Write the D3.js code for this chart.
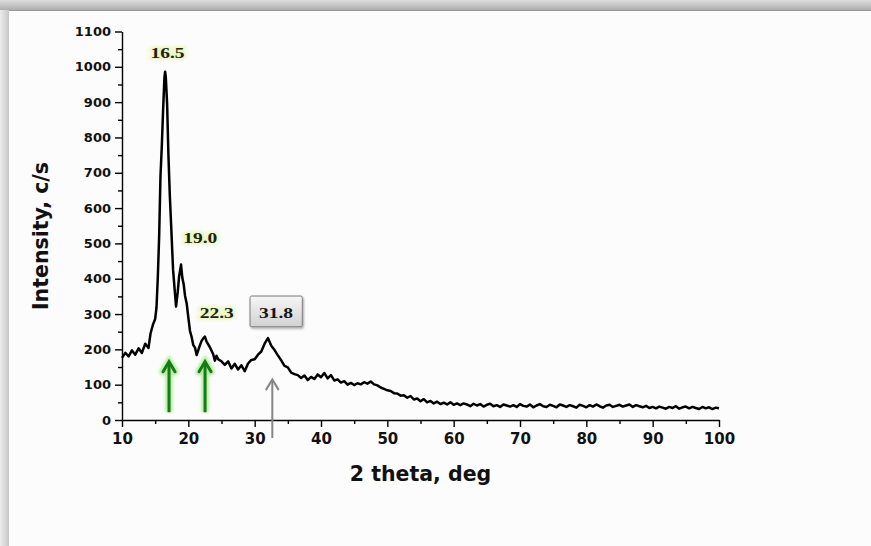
<!DOCTYPE html>
<html>
<head>
<meta charset="utf-8">
<script src="https://cdn.jsdelivr.net/npm/d3@7"></script>
<style>
  body { margin: 0; background: #fcfcfc; }
  svg { display: block; }
</style>
</head>
<body>
<div id="chart"></div>
<script>
// Picture size
const width = 871;
const height = 546;

// XRD pattern
const twoTheta = [
  10.0, 10.5, 11.0, 11.5, 12.0, 12.5, 13.0, 13.5, 14.0, 14.3, 14.7, 15.0, 15.2, 15.4, 15.6, 15.8,
  16.0, 16.2, 16.4, 16.5, 16.6, 16.8, 17.0, 17.2, 17.4, 17.7, 18.0, 18.15, 18.4, 18.6, 18.9, 19.1,
  19.3, 19.5, 19.75, 20.0, 20.25, 20.5, 20.75, 21.0, 21.25, 21.5, 21.75, 22.0, 22.25, 22.5, 22.75,
  23.0, 23.25, 23.5, 23.75, 24.0, 24.25, 24.5, 25.0, 25.5, 26.0, 26.5, 27.0, 27.5, 28.0, 28.5,
  29.0, 29.5, 30.0, 30.5, 31.0, 31.5, 32.0, 32.5, 33.0, 33.5, 34.0, 34.5, 35.0, 35.5, 36.0, 36.5,
  37.0, 37.5, 38.0, 38.5, 39.0, 39.5, 40.0, 40.5, 41.0, 41.5, 42.0, 42.5, 43.0, 43.5, 44.0, 44.5,
  45.0, 45.5, 46.0, 46.5, 47.0, 47.5, 48.0, 48.5, 49.0, 49.5, 50.0, 50.5, 51.0, 51.5, 52.0, 52.5,
  53.0, 53.5, 54.0, 54.5, 55.0, 55.5, 56.0, 56.5, 57.0, 57.5, 58.0, 58.5, 59.0, 59.5, 60.0, 60.5,
  61.0, 61.5, 62.0, 62.5, 63.0, 63.5, 64.0, 64.5, 65.0, 65.5, 66.0, 66.5, 67.0, 67.5, 68.0, 68.5,
  69.0, 69.5, 70.0, 70.5, 71.0, 71.5, 72.0, 72.5, 73.0, 73.5, 74.0, 74.5, 75.0, 75.5, 76.0, 76.5,
  77.0, 77.5, 78.0, 78.5, 79.0, 79.5, 80.0, 80.5, 81.0, 81.5, 82.0, 82.5, 83.0, 83.5, 84.0, 84.5,
  85.0, 85.5, 86.0, 86.5, 87.0, 87.5, 88.0, 88.5, 89.0, 89.5, 90.0, 90.5, 91.0, 91.5, 92.0, 92.5,
  93.0, 93.5, 94.0, 94.5, 95.0, 95.5, 96.0, 96.5, 97.0, 97.5, 98.0, 98.5, 99.0, 99.5, 100.0
];
const intensity = [
  176, 190, 180, 197, 185, 203, 190, 216, 204, 245, 272, 286, 318, 405, 520, 690,
  775, 880, 970, 986, 972, 895, 750, 640, 555, 425, 355, 321, 362, 405, 440, 402,
  384, 352, 330, 290, 252, 235, 212, 205, 184, 198, 212, 224, 231, 236, 222,
  214, 206, 196, 186, 168, 182, 172, 166, 156, 166, 146, 159, 143, 155, 138,
  160, 170, 172, 185, 194, 216, 232, 210, 198, 183, 169, 153, 149, 134, 130, 127,
  119, 126, 113, 122, 116, 129, 121, 133, 118, 127, 112, 115, 106, 110, 100, 105,
  99, 104, 101, 107, 103, 109, 101, 98, 92, 88, 84, 82, 76, 75, 69, 70,
  63, 68, 58, 61, 53, 59, 50, 54, 47, 52, 45, 49, 44, 50, 43, 47,
  42, 47, 44, 39, 46, 41, 45, 38, 43, 46, 39, 42, 37, 44, 41, 38,
  42, 37, 45, 40, 38, 44, 36, 41, 45, 39, 37, 43, 40, 36, 44, 41,
  37, 42, 39, 35, 43, 40, 36, 42, 38, 44, 39, 35, 41, 43, 37, 40,
  43, 38, 41, 44, 37, 42, 39, 36, 40, 34, 37, 33, 38, 35, 32, 37,
  34, 39, 32, 36, 38, 33, 37, 34, 31, 37, 33, 36, 31, 35, 33
];

// Axis ticks
const xTicks = [10, 20, 30, 40, 50, 60, 70, 80, 90, 100];
const xMinor = [15, 25, 35, 45, 55, 65, 75, 85, 95];
const yTicks = [0, 100, 200, 300, 400, 500, 600, 700, 800, 900, 1000, 1100];
const yMinor = [50, 150, 250, 350, 450, 550, 650, 750, 850, 950, 1050];

// Peak labels and where they sit (data units)
const peakLabels = ["16.5", "19.0", "22.3"];
const peakLabelAt = [[16.86, 1024], [21.8, 501], [24.28, 289]];
const boxLabel = "31.8";
const boxLabelAt = [33.22, 289];
const boxExtent = [[29.3, 351], [37.18, 264]];

// Arrows: [two theta, bottom, tip]
const greenArrows = [[17.09, 22, 165], [22.52, 22, 165]];
const greyArrow = [32.66, -51, 115];

const x = d3.scaleLinear().domain([10, 100]).range([122, 719]);
const y = d3.scaleLinear().domain([0, 1100]).range([420, 31.5]);

const svg = d3.select("#chart")
  .append("svg")
  .attr("width", width)
  .attr("height", height);

const defs = svg.append("defs");

// frame gradients
const topGrad = defs.append("linearGradient").attr("id", "topGrad")
  .attr("x1", 0).attr("y1", 0).attr("x2", 0).attr("y2", 1);
topGrad.append("stop").attr("offset", "0%").attr("stop-color", "#dedede");
topGrad.append("stop").attr("offset", "100%").attr("stop-color", "#adadad");

const leftGrad = defs.append("linearGradient").attr("id", "leftGrad")
  .attr("x1", 0).attr("y1", 0).attr("x2", 1).attr("y2", 0);
leftGrad.append("stop").attr("offset", "0%").attr("stop-color", "#ececec");
leftGrad.append("stop").attr("offset", "100%").attr("stop-color", "#c6c6c6");

const boxGrad = defs.append("linearGradient").attr("id", "boxGrad")
  .attr("x1", 0).attr("y1", 0).attr("x2", 0).attr("y2", 1);
boxGrad.append("stop").attr("offset", "0%").attr("stop-color", "#f6f6f6");
boxGrad.append("stop").attr("offset", "100%").attr("stop-color", "#d2d2d2");

defs.append("filter").attr("id", "blur")
  .attr("x", "-50%").attr("y", "-50%").attr("width", "200%").attr("height", "200%")
  .append("feGaussianBlur").attr("stdDeviation", 1.8);

defs.append("filter").attr("id", "shadow")
  .attr("x", "-20%").attr("y", "-20%").attr("width", "140%").attr("height", "160%")
  .append("feDropShadow").attr("dx", 1).attr("dy", 1.5).attr("stdDeviation", 1.2)
  .attr("flood-color", "#000").attr("flood-opacity", 0.35);

// Frame around the figure
svg.append("rect").attr("width", width).attr("height", height).attr("fill", "#fcfcfc");
svg.append("rect").attr("x", 0).attr("y", 0).attr("width", 9).attr("height", height)
  .attr("fill", "url(#leftGrad)");
svg.append("rect").attr("x", 0).attr("y", 0).attr("width", width).attr("height", 10)
  .attr("fill", "url(#topGrad)");
svg.append("line").attr("x1", 9).attr("x2", width).attr("y1", 10.5).attr("y2", 10.5)
  .attr("stroke", "#9a9a9a").attr("stroke-width", 1);

// Axes
const font = "'DejaVu Sans', sans-serif";
const fmt = d3.format("d");

const yAxis = svg.append("g")
  .attr("transform", `translate(${x(10)},0)`)
  .call(d3.axisLeft(y).tickValues(yTicks).tickFormat(fmt).tickSize(7).tickSizeOuter(0).tickPadding(4));
svg.append("g")
  .attr("transform", `translate(${x(10)},0)`)
  .call(d3.axisLeft(y).tickValues(yMinor).tickSize(4).tickFormat(""))
  .call(g => g.select(".domain").remove());

const xAxis = svg.append("g")
  .attr("transform", `translate(0,${y(0)})`)
  .call(d3.axisBottom(x).tickValues(xTicks).tickFormat(fmt).tickSize(7).tickSizeOuter(0).tickPadding(6));
svg.append("g")
  .attr("transform", `translate(0,${y(0)})`)
  .call(d3.axisBottom(x).tickValues(xMinor).tickSize(4).tickFormat(""))
  .call(g => g.select(".domain").remove());

svg.selectAll(".domain, .tick line").attr("stroke", "#000").attr("stroke-width", 1.4);
yAxis.selectAll("text").attr("font-family", font).attr("font-weight", "bold")
  .attr("font-size", 13).attr("fill", "#111");
xAxis.selectAll("text").attr("font-family", font).attr("font-weight", "bold")
  .attr("font-size", 15).attr("fill", "#111");

// Axis titles
svg.append("text")
  .attr("transform", `translate(48,236) rotate(-90)`)
  .attr("text-anchor", "middle")
  .attr("font-family", font).attr("font-weight", "bold").attr("font-size", 20.5)
  .attr("fill", "#111")
  .text("Intensity, c/s");

svg.append("text")
  .attr("x", 420.5).attr("y", 481)
  .attr("text-anchor", "middle")
  .attr("font-family", font).attr("font-weight", "bold").attr("font-size", 20.5)
  .attr("fill", "#111")
  .text("2 theta, deg");

// The pattern
const points = twoTheta.map((t, i) => [t, intensity[i]]);
svg.append("path")
  .datum(points)
  .attr("fill", "none")
  .attr("stroke", "#000")
  .attr("stroke-width", 2.5)
  .attr("stroke-linejoin", "round")
  .attr("d", d3.line().x(d => x(d[0])).y(d => y(d[1])));

// Arrows
function arrow(g, a, color, w) {
  const px = x(a[0]), y0 = y(a[1]), y1 = y(a[2]);
  g.append("line").attr("x1", px).attr("x2", px).attr("y1", y0).attr("y2", y1 + 1)
    .attr("stroke", color).attr("stroke-width", w);
  g.append("path")
    .attr("d", `M${px - 6},${y1 + 10} L${px},${y1} L${px + 6},${y1 + 10}`)
    .attr("fill", "none").attr("stroke", color).attr("stroke-width", w)
    .attr("stroke-linejoin", "miter").attr("stroke-linecap", "round");
}

greenArrows.forEach(a => {
  const glow = svg.append("g").attr("filter", "url(#blur)").attr("opacity", 0.8);
  arrow(glow, a, "#9be582", 7);
  arrow(svg.append("g"), a, "#137d13", 3);
});
arrow(svg.append("g"), greyArrow, "#858585", 2);

// Peak labels with a pale glow
const serif = "'Liberation Serif', 'Times New Roman', serif";
peakLabels.forEach((lab, i) => {
  const [t, v] = peakLabelAt[i];
  const g = svg.append("g").attr("transform", `translate(${x(t)},${y(v)}) scale(1.3,1)`);
  g.append("text")
    .attr("text-anchor", "middle")
    .attr("font-family", serif).attr("font-weight", "bold").attr("font-size", 15)
    .attr("fill", "#ebf6c2").attr("stroke", "#ebf6c2").attr("stroke-width", 4)
    .attr("filter", "url(#blur)")
    .text(lab);
  g.append("text")
    .attr("text-anchor", "middle")
    .attr("font-family", serif).attr("font-weight", "bold").attr("font-size", 15)
    .attr("fill", "#1c2412")
    .text(lab);
});

// Boxed label
svg.append("rect")
  .attr("x", x(boxExtent[0][0])).attr("y", y(boxExtent[0][1]))
  .attr("width", x(boxExtent[1][0]) - x(boxExtent[0][0]))
  .attr("height", y(boxExtent[1][1]) - y(boxExtent[0][1]))
  .attr("rx", 1.5)
  .attr("fill", "url(#boxGrad)").attr("stroke", "#7c7c7c").attr("stroke-width", 1)
  .attr("filter", "url(#shadow)");
svg.append("text")
  .attr("transform", `translate(${x(boxLabelAt[0])},${y(boxLabelAt[1])}) scale(1.3,1)`)
  .attr("text-anchor", "middle")
  .attr("font-family", serif).attr("font-weight", "bold").attr("font-size", 15)
  .attr("fill", "#151515")
  .text(boxLabel);
</script>
</body>
</html>
